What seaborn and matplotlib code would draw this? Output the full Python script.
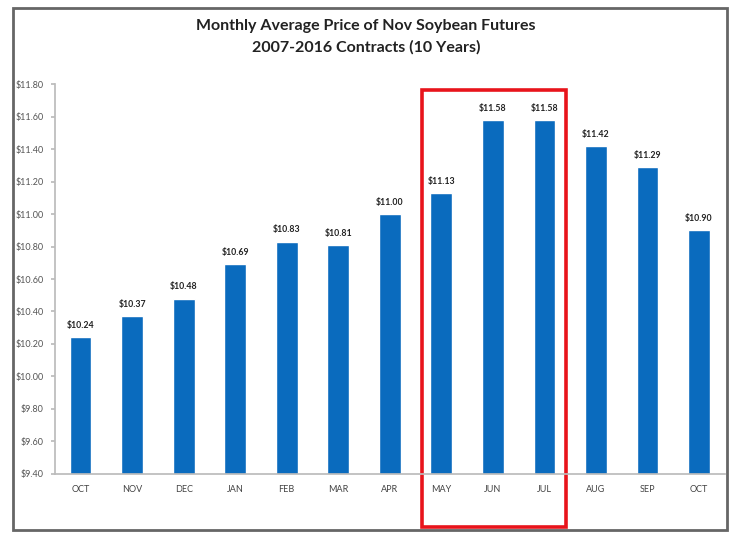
import seaborn as sns
import matplotlib
matplotlib.use("Agg")
import matplotlib.pyplot as plt
from matplotlib.patches import Rectangle
import numpy as np
import pandas as pd

sns.set_theme(style="white")
plt.rcParams['font.family'] = ['Lato', 'DejaVu Sans']

# data
months = ['OCT', 'NOV', 'DEC', 'JAN', 'FEB', 'MAR', 'APR',
          'MAY', 'JUN', 'JUL', 'AUG', 'SEP', 'OCT']
prices = [10.24, 10.37, 10.48, 10.69, 10.83, 10.81, 11.00,
          11.13, 11.58, 11.58, 11.42, 11.29, 10.90]
yticks = np.arange(9.40, 11.81, 0.20)

df = pd.DataFrame({'pos': np.arange(len(months)), 'price': prices})

fig = plt.figure(figsize=(7.32, 5.33), dpi=100)
ax = fig.add_axes([0.075, 0.111, 0.915, 0.731])

sns.barplot(data=df, x='pos', y='price', color='#0A6BBE', saturation=1,
            width=0.42, ax=ax)

ax.set_ylim(9.40, 11.80)
ax.set_yticks(yticks)
ax.set_yticklabels([f'${v:.2f}' for v in yticks], fontsize=6.5, color='#555555')
ax.set_xticks(range(len(months)))
ax.set_xticklabels(months, fontsize=6.5, color='#444444')
ax.set_xlabel('')
ax.set_ylabel('')
ax.set_xlim(-0.5, len(months) - 0.5)

for s in ['top', 'right']:
    ax.spines[s].set_visible(False)
ax.spines['left'].set_color('#bbbbbb')
ax.spines['bottom'].set_color('#bbbbbb')
ax.tick_params(axis='y', length=3, color='#bbbbbb', left=True, pad=5)
ax.tick_params(axis='x', length=0, pad=8)

# value labels
for i, v in enumerate(prices):
    ax.text(i, v + 0.045, f'${v:.2f}', ha='center', va='bottom',
            fontsize=6.3, fontweight='bold', color='#222222')

# red highlight box around MAY-JUL
ax.add_patch(Rectangle((6.62, 9.075), 2.8, 11.765 - 9.075, transform=ax.transData,
                       clip_on=False, fill=False, ec='#E8141B', lw=2.6))

fig.text(0.5, 0.951, 'Monthly Average Price of Nov Soybean Futures',
         ha='center', va='center', fontsize=11.5, fontweight='bold', color='#222222')
fig.text(0.5, 0.912, '2007-2016 Contracts (10 Years)',
         ha='center', va='center', fontsize=11.5, fontweight='bold', color='#222222')

# outer chart frame
fig.patches.append(Rectangle((13 / 732, 3 / 533), 714 / 732, 522 / 533,
                             transform=fig.transFigure, fill=False,
                             ec='#666666', lw=2))

fig.savefig('out.png', dpi=100)
